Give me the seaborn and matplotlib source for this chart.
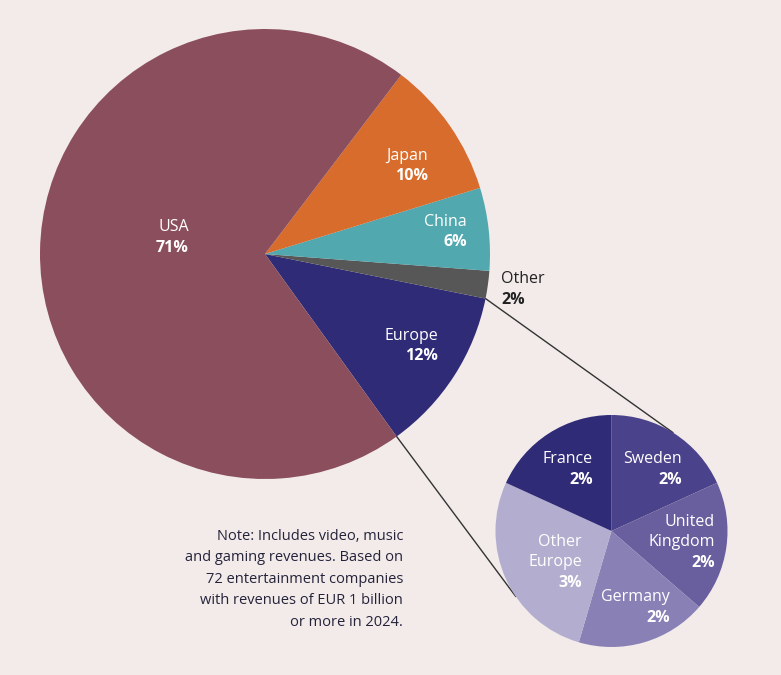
import matplotlib
matplotlib.use("Agg")
import matplotlib.pyplot as plt
import seaborn as sns
import numpy as np

# ---- data ----
main_labels = ["Europe", "Other", "China", "Japan", "USA"]
main_values = [12, 2, 6, 10, 71]
main_pct = ["12%", "2%", "6%", "10%", "71%"]

sub_labels = ["Sweden", "United\nKingdom", "Germany", "Other\nEurope", "France"]
sub_values = [2, 2, 2, 3, 2]
sub_pct = ["2%", "2%", "2%", "3%", "2%"]

note = ("Note: Includes video, music\nand gaming revenues. Based on\n"
        "72 entertainment companies\nwith revenues of EUR 1 billion\n"
        "or more in 2024.")

# ---- style ----
sns.set_theme(style="white")
plt.rcParams['font.family'] = ['Open Sans', 'DejaVu Sans']
BG = "#F2EBEA"
main_colors = ["#2F2B77", "#575757", "#52A8AF", "#D86C2C", "#8B4E5C"]
sub_colors = ["#4A428A", "#6A5F9E", "#8981B6", "#B3AECF", "#2F2B77"]

W, H = 781, 675
fig = plt.figure(figsize=(W / 100, H / 100), dpi=100, facecolor=BG)
ax = fig.add_axes([0, 0, 1, 1])
ax.set_facecolor(BG)

def py(y):
    return H - y

main_c = (265, py(254)); main_r = 225
sub_c = (611.5, py(531)); sub_r = 116

mw, _ = ax.pie(main_values, colors=main_colors, startangle=-54.2, counterclock=True,
               center=main_c, radius=main_r, frame=True,
               wedgeprops=dict(linewidth=0))
sw, _ = ax.pie(sub_values, colors=sub_colors, startangle=90, counterclock=False,
               center=sub_c, radius=sub_r, frame=True,
               wedgeprops=dict(linewidth=0))
ax.set_xlim(0, W)
ax.set_ylim(0, H)
ax.set_aspect("equal")
ax.axis("off")

# connector lines
eu = mw[0]
def pt(c, r, ang):
    a = np.deg2rad(ang)
    return c[0] + r * np.cos(a), c[1] + r * np.sin(a)

for a_main, a_sub in [(eu.theta2, 58), (eu.theta1, 214.4)]:
    x0, y0 = pt(main_c, main_r, a_main)
    x1, y1 = pt(sub_c, sub_r, a_sub)
    ax.plot([x0, x1], [y0, y1], color="#333333", lw=1.0, zorder=0.5)

FS = 11.5
def label(xr, y1, name, pct, color="white", ha="right"):
    lines = name.split("\n")
    yy = y1
    for ln in lines:
        ax.text(xr, py(yy), ln, ha=ha, va="center", color=color, fontsize=FS)
        yy += 20.5
    ax.text(xr, py(yy), pct, ha=ha, va="center", color=color, fontsize=FS,
            fontweight="bold")

# main labels: (right x, first line y)
main_pos = {"USA": (189, 227), "Japan": (428, 156), "China": (467, 222),
            "Europe": (438, 336)}
for name, pct in zip(main_labels, main_pct):
    if name in main_pos:
        xr, y1 = main_pos[name]
        label(xr, y1, name, pct)
label(501, 279, "Other", "2%", color="#222222", ha="left")

sub_pos = {"Sweden": (682, 459), "United\nKingdom": (715, 522),
           "Germany": (670, 597), "Other\nEurope": (582, 542),
           "France": (593, 459)}
for name, pct in zip(sub_labels, sub_pct):
    xr, y1 = sub_pos[name]
    label(xr, y1, name, pct)

ax.text(403, py(529), note, ha="right", va="top", fontsize=10.5, color="#25233A",
        linespacing=1.58, multialignment="right")

fig.savefig("out.png", dpi=100, facecolor=BG)
